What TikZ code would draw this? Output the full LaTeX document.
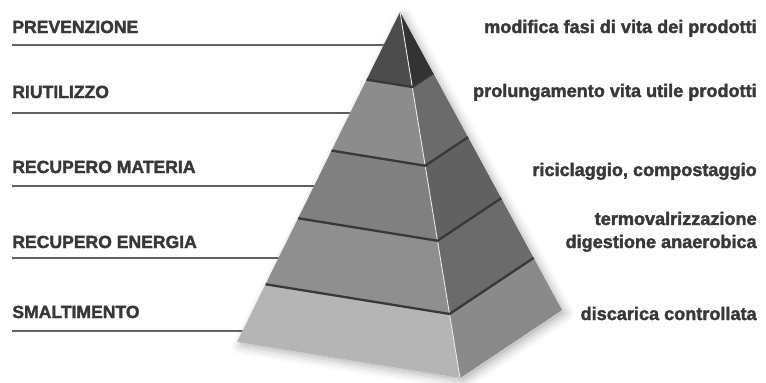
\documentclass[tikz,border=0pt]{standalone}
\usepackage{fontspec}
\setmainfont{Liberation Sans}
\newfontfamily\lblfont{Liberation Sans Bold}[FakeBold=2]
\usetikzlibrary{calc,shadows.blur}
\definecolor{ink}{gray}{0.22}
\begin{document}
\begin{tikzpicture}[x=0.02cm,y=-0.02cm,
    lbl/.style={font=\lblfont\fontsize{10}{13.1}\selectfont,text=ink,inner sep=0pt},
    desc/.style={lbl,font=\lblfont\fontsize{10.3}{13.1}\selectfont},
    leader/.style={line width=1.3pt,draw=black!62},
    seam/.style={line width=1.3pt,draw=black!78,line join=round},
    shine/.style={line width=0.5pt,draw=black!8}]
  \useasboundingbox (0,0) rectangle (766,382);

  \node[lbl,anchor=base west] (prev) at (12,33) {PREVENZIONE};
  \node[lbl,anchor=base west] (riut) at (12,98) {RIUTILIZZO};
  \node[lbl,anchor=base west] (mat) at (12,173) {RECUPERO MATERIA};
  \node[lbl,anchor=base west] (ene) at (12,248) {RECUPERO ENERGIA};
  \node[lbl,anchor=base west] (smal) at (12,318) {SMALTIMENTO};

  \node[desc,anchor=base east] (mod) at (757,33) {modifica fasi di vita dei prodotti};
  \node[desc,anchor=base east] (prol) at (757,97) {prolungamento vita utile prodotti};
  \node[desc,anchor=base east] (ric) at (757,176) {riciclaggio, compostaggio};
  \node[desc,anchor=base east,align=right] (termo) at (757,248) {termovalrizzazione\\digestione anaerobica};
  \node[desc,anchor=base east] (disc) at (757,320) {discarica controllata};

  \coordinate (A) at (400,12);
  \coordinate (L) at (237,342);
  \coordinate (F) at (460,378);
  \coordinate (R) at (562,310);

  \coordinate (l1) at (12,45);
  \coordinate (l2) at (12,113);
  \coordinate (l3) at (12,186);
  \coordinate (l4) at (12,258);
  \coordinate (l5) at (12,331);
  \foreach \p in {l1,l2,l3,l4,l5}
    \draw[leader] (\p) -- (\p -| A);

  \fill[white,blur shadow={shadow xshift=2pt,shadow yshift=-2pt,shadow blur radius=5pt,shadow opacity=30}] (A) -- (L) -- (F) -- (R) -- cycle;

  \foreach \ta/\tb/\cl/\cr in {0/0.205/70/80, 0.205/0.42/45/58, 0.42/0.625/50/62, 0.625/0.825/44/58, 0.825/1/29/46}{
    \fill[black!\cl] ($(A)!\ta!(L)$) -- ($(A)!\ta!(F)$) -- ($(A)!\tb!(F)$) -- ($(A)!\tb!(L)$) -- cycle;
    \fill[black!\cr] ($(A)!\ta!(F)$) -- ($(A)!\ta!(R)$) -- ($(A)!\tb!(R)$) -- ($(A)!\tb!(F)$) -- cycle;
    \draw[shine] ($(A)!\ta!(F)$) -- ($(A)!\tb!(F)$);
  }
  \foreach \t in {0.205,0.42,0.625,0.825}{
    \draw[shine,shift={(0,2)}] ($(A)!\t!(L)$) -- ($(A)!\t!(F)$) -- ($(A)!\t!(R)$);
    \draw[seam] ($(A)!\t!(L)$) -- ($(A)!\t!(F)$) -- ($(A)!\t!(R)$);
  }
\end{tikzpicture}
\end{document}
